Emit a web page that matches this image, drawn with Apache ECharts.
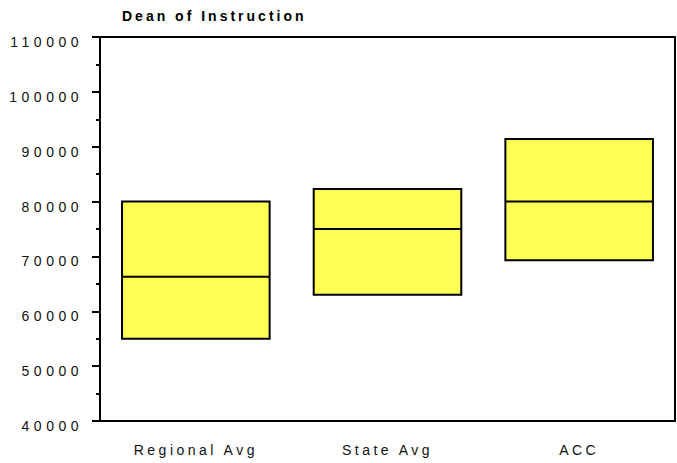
<!DOCTYPE html>
<html>
<head>
<meta charset="utf-8">
<script src="https://cdn.jsdelivr.net/npm/echarts@6/dist/echarts.min.js"></script>
<style>
  html, body { margin: 0; padding: 0; background: #fff; }
  #chart { width: 677px; height: 463px; }
  /* the reference uses widely spaced letters everywhere */
  #chart text { letter-spacing: 3.5px; }
  #chart text[text-anchor="end"] { letter-spacing: 4.5px; }
  #chart text[text-anchor="start"] { letter-spacing: 3px; }
</style>
</head>
<body>
<div id="chart"></div>
<script>
// box data (low / median / high) per group
const categories = ["Regional Avg", "State Avg", "ACC"];
const lowValues = [55000, 63000, 69300];
const medianValues = [66300, 75000, 80000];
const highValues = [80000, 82300, 91400];

const chart = echarts.init(document.getElementById("chart"), null, { renderer: "svg" });

const font = "Liberation Sans, Arial, sans-serif";

// one rect + median line per category
function renderBox(params, api) {
  const idx = api.value(0);
  const top = api.coord([idx, api.value(3)]);
  const mid = api.coord([idx, api.value(2)]);
  const bottom = api.coord([idx, api.value(1)]);
  const w = api.size([1, 0])[0] * 0.77;
  const x = top[0] - w / 2;
  return {
    type: "group",
    children: [
      {
        type: "rect",
        shape: { x: x, y: top[1], width: w, height: bottom[1] - top[1] },
        style: { fill: "#FFFF55", stroke: "#000", lineWidth: 2 },
      },
      {
        type: "line",
        shape: { x1: x, y1: mid[1], x2: x + w, y2: mid[1] },
        style: { stroke: "#000", lineWidth: 2 },
      },
    ],
  };
}

const option = {
  animation: false,
  title: {
    text: "Dean of Instruction",
    left: 117,
    top: 4,
    textStyle: { fontFamily: font, fontSize: 14, fontWeight: "bold", color: "#000" },
  },
  grid: {
    left: 100,
    right: 2,
    top: 37,
    bottom: 42,
    show: true,
    borderColor: "#000",
    borderWidth: 2,
  },
  xAxis: [
    {
      type: "category",
      data: categories,
      position: "bottom",
      axisLine: { lineStyle: { color: "#000", width: 2 } },
      axisTick: { alignWithLabel: true, length: 4, lineStyle: { color: "#000", width: 2 } },
      axisLabel: { margin: 22, fontFamily: font, fontSize: 14, color: "#111" },
    },
    {
      type: "category",
      data: categories,
      position: "top",
      axisLine: { lineStyle: { color: "#000", width: 2 } },
      axisTick: { alignWithLabel: true, length: 4, lineStyle: { color: "#000", width: 2 } },
      axisLabel: { show: false },
    },
  ],
  yAxis: {
    type: "value",
    min: 40000,
    max: 110000,
    interval: 10000,
    splitLine: { show: false },
    axisLine: { show: true, lineStyle: { color: "#000", width: 2 } },
    axisTick: { show: true, length: 8, lineStyle: { color: "#000", width: 2 } },
    minorTick: { show: true, splitNumber: 2, length: 4, lineStyle: { color: "#000", width: 2 } },
    axisLabel: {
      margin: 17,
      verticalAlign: "top",
      lineHeight: 10,
      fontFamily: font,
      fontSize: 14,
      color: "#111",
      formatter: v => String(v),
    },
  },
  series: [
    {
      type: "custom",
      renderItem: renderBox,
      encode: { x: 0, y: [1, 2, 3] },
      data: categories.map((c, i) => [i, lowValues[i], medianValues[i], highValues[i]]),
    },
  ],
};

chart.setOption(option);
</script>
</body>
</html>
